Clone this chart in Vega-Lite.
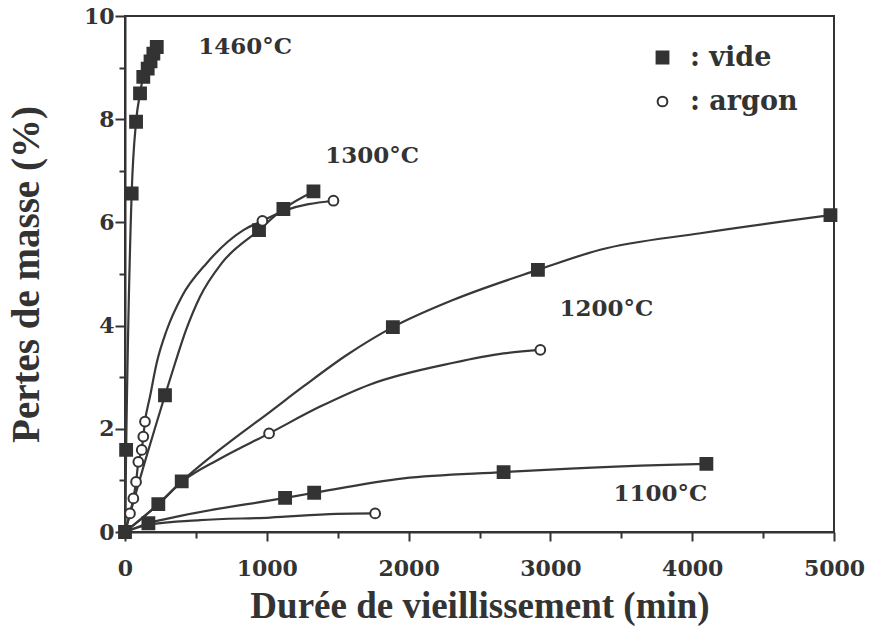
{
  "$schema": "https://vega.github.io/schema/vega-lite/v6.json",
  "width": 709,
  "height": 516,
  "autosize": "none",
  "padding": {"left": 125, "top": 16, "right": 35, "bottom": 100},
  "background": "white",
  "config": {
    "view": {"stroke": "#333", "strokeWidth": 2},
    "font": "DejaVu Serif"
  },
  "datasets": {
    "mesures": [
      {"t": 0, "perte": 0, "temp": "1460", "atm": "vide"},
      {"t": 8, "perte": 1.59, "temp": "1460", "atm": "vide"},
      {"t": 47, "perte": 6.56, "temp": "1460", "atm": "vide"},
      {"t": 78, "perte": 7.95, "temp": "1460", "atm": "vide"},
      {"t": 106, "perte": 8.5, "temp": "1460", "atm": "vide"},
      {"t": 129, "perte": 8.82, "temp": "1460", "atm": "vide"},
      {"t": 160, "perte": 8.98, "temp": "1460", "atm": "vide"},
      {"t": 180, "perte": 9.12, "temp": "1460", "atm": "vide"},
      {"t": 200, "perte": 9.27, "temp": "1460", "atm": "vide"},
      {"t": 224, "perte": 9.4, "temp": "1460", "atm": "vide"},
      {"t": 282, "perte": 2.65, "temp": "1300", "atm": "vide"},
      {"t": 945, "perte": 5.85, "temp": "1300", "atm": "vide"},
      {"t": 1117, "perte": 6.26, "temp": "1300", "atm": "vide"},
      {"t": 1329, "perte": 6.6, "temp": "1300", "atm": "vide"},
      {"t": 35, "perte": 0.36, "temp": "1300", "atm": "argon"},
      {"t": 59, "perte": 0.65, "temp": "1300", "atm": "argon"},
      {"t": 78, "perte": 0.97, "temp": "1300", "atm": "argon"},
      {"t": 94, "perte": 1.36, "temp": "1300", "atm": "argon"},
      {"t": 118, "perte": 1.59, "temp": "1300", "atm": "argon"},
      {"t": 129, "perte": 1.85, "temp": "1300", "atm": "argon"},
      {"t": 141, "perte": 2.14, "temp": "1300", "atm": "argon"},
      {"t": 969, "perte": 6.03, "temp": "1300", "atm": "argon"},
      {"t": 1470, "perte": 6.42, "temp": "1300", "atm": "argon"},
      {"t": 235, "perte": 0.54, "temp": "1200", "atm": "vide"},
      {"t": 400, "perte": 0.98, "temp": "1200", "atm": "vide"},
      {"t": 1889, "perte": 3.97, "temp": "1200", "atm": "vide"},
      {"t": 2912, "perte": 5.08, "temp": "1200", "atm": "vide"},
      {"t": 4975, "perte": 6.14, "temp": "1200", "atm": "vide"},
      {"t": 1016, "perte": 1.91, "temp": "1200", "atm": "argon"},
      {"t": 2929, "perte": 3.53, "temp": "1200", "atm": "argon"},
      {"t": 165, "perte": 0.17, "temp": "1100", "atm": "vide"},
      {"t": 1129, "perte": 0.66, "temp": "1100", "atm": "vide"},
      {"t": 1334, "perte": 0.76, "temp": "1100", "atm": "vide"},
      {"t": 2670, "perte": 1.16, "temp": "1100", "atm": "vide"},
      {"t": 4100, "perte": 1.32, "temp": "1100", "atm": "vide"},
      {"t": 1764, "perte": 0.36, "temp": "1100", "atm": "argon"}
    ],
    "courbes": [
      {"t": 0, "perte": 0, "courbe": "1460 vide"},
      {"t": 8, "perte": 1.59, "courbe": "1460 vide"},
      {"t": 47, "perte": 6.56, "courbe": "1460 vide"},
      {"t": 78, "perte": 7.95, "courbe": "1460 vide"},
      {"t": 106, "perte": 8.5, "courbe": "1460 vide"},
      {"t": 129, "perte": 8.82, "courbe": "1460 vide"},
      {"t": 160, "perte": 8.98, "courbe": "1460 vide"},
      {"t": 180, "perte": 9.12, "courbe": "1460 vide"},
      {"t": 200, "perte": 9.27, "courbe": "1460 vide"},
      {"t": 224, "perte": 9.4, "courbe": "1460 vide"},
      {"t": 0, "perte": 0, "courbe": "1300 argon"},
      {"t": 35, "perte": 0.36, "courbe": "1300 argon"},
      {"t": 59, "perte": 0.65, "courbe": "1300 argon"},
      {"t": 78, "perte": 0.97, "courbe": "1300 argon"},
      {"t": 94, "perte": 1.36, "courbe": "1300 argon"},
      {"t": 118, "perte": 1.59, "courbe": "1300 argon"},
      {"t": 129, "perte": 1.85, "courbe": "1300 argon"},
      {"t": 141, "perte": 2.14, "courbe": "1300 argon"},
      {"t": 176, "perte": 2.62, "courbe": "1300 argon"},
      {"t": 223, "perte": 3.27, "courbe": "1300 argon"},
      {"t": 294, "perte": 3.91, "courbe": "1300 argon"},
      {"t": 400, "perte": 4.56, "courbe": "1300 argon"},
      {"t": 576, "perte": 5.21, "courbe": "1300 argon"},
      {"t": 835, "perte": 5.85, "courbe": "1300 argon"},
      {"t": 969, "perte": 6.03, "courbe": "1300 argon"},
      {"t": 1117, "perte": 6.22, "courbe": "1300 argon"},
      {"t": 1470, "perte": 6.42, "courbe": "1300 argon"},
      {"t": 0, "perte": 0, "courbe": "1300 vide"},
      {"t": 150, "perte": 1.45, "courbe": "1300 vide"},
      {"t": 210, "perte": 2.0, "courbe": "1300 vide"},
      {"t": 282, "perte": 2.65, "courbe": "1300 vide"},
      {"t": 353, "perte": 3.27, "courbe": "1300 vide"},
      {"t": 430, "perte": 3.91, "courbe": "1300 vide"},
      {"t": 529, "perte": 4.56, "courbe": "1300 vide"},
      {"t": 682, "perte": 5.21, "courbe": "1300 vide"},
      {"t": 945, "perte": 5.85, "courbe": "1300 vide"},
      {"t": 1117, "perte": 6.26, "courbe": "1300 vide"},
      {"t": 1329, "perte": 6.6, "courbe": "1300 vide"},
      {"t": 0, "perte": 0, "courbe": "1200 vide"},
      {"t": 235, "perte": 0.54, "courbe": "1200 vide"},
      {"t": 400, "perte": 0.98, "courbe": "1200 vide"},
      {"t": 670, "perte": 1.6, "courbe": "1200 vide"},
      {"t": 1023, "perte": 2.33, "courbe": "1200 vide"},
      {"t": 1258, "perte": 2.82, "courbe": "1200 vide"},
      {"t": 1564, "perte": 3.43, "courbe": "1200 vide"},
      {"t": 1889, "perte": 3.97, "courbe": "1200 vide"},
      {"t": 2317, "perte": 4.5, "courbe": "1200 vide"},
      {"t": 2912, "perte": 5.08, "courbe": "1200 vide"},
      {"t": 3351, "perte": 5.47, "courbe": "1200 vide"},
      {"t": 4058, "perte": 5.79, "courbe": "1200 vide"},
      {"t": 4975, "perte": 6.14, "courbe": "1200 vide"},
      {"t": 0, "perte": 0, "courbe": "1200 argon"},
      {"t": 235, "perte": 0.54, "courbe": "1200 argon"},
      {"t": 400, "perte": 0.97, "courbe": "1200 argon"},
      {"t": 670, "perte": 1.42, "courbe": "1200 argon"},
      {"t": 1016, "perte": 1.91, "courbe": "1200 argon"},
      {"t": 1376, "perte": 2.43, "courbe": "1200 argon"},
      {"t": 1729, "perte": 2.86, "courbe": "1200 argon"},
      {"t": 2317, "perte": 3.28, "courbe": "1200 argon"},
      {"t": 2670, "perte": 3.46, "courbe": "1200 argon"},
      {"t": 2929, "perte": 3.53, "courbe": "1200 argon"},
      {"t": 0, "perte": 0, "courbe": "1100 vide"},
      {"t": 165, "perte": 0.17, "courbe": "1100 vide"},
      {"t": 318, "perte": 0.27, "courbe": "1100 vide"},
      {"t": 1129, "perte": 0.66, "courbe": "1100 vide"},
      {"t": 1334, "perte": 0.76, "courbe": "1100 vide"},
      {"t": 1964, "perte": 1.04, "courbe": "1100 vide"},
      {"t": 2670, "perte": 1.16, "courbe": "1100 vide"},
      {"t": 3140, "perte": 1.23, "courbe": "1100 vide"},
      {"t": 3823, "perte": 1.3, "courbe": "1100 vide"},
      {"t": 4100, "perte": 1.32, "courbe": "1100 vide"},
      {"t": 0, "perte": 0, "courbe": "1100 argon"},
      {"t": 165, "perte": 0.14, "courbe": "1100 argon"},
      {"t": 529, "perte": 0.23, "courbe": "1100 argon"},
      {"t": 1023, "perte": 0.28, "courbe": "1100 argon"},
      {"t": 1494, "perte": 0.35, "courbe": "1100 argon"},
      {"t": 1764, "perte": 0.36, "courbe": "1100 argon"}
    ],
    "etiquettes": [
      {"t": 847, "perte": 9.4, "texte": "1460°C"},
      {"t": 1743, "perte": 7.29, "texte": "1300°C"},
      {"t": 3395, "perte": 4.32, "texte": "1200°C"},
      {"t": 3776, "perte": 0.74, "texte": "1100°C"}
    ]
  },
  "encoding": {
    "x": {
      "field": "t",
      "type": "quantitative",
      "scale": {"domain": [0, 5000], "nice": false, "zero": true},
      "axis": {
        "title": "Durée de vieillissement (min)",
        "values": [0, 500, 1000, 1500, 2000, 2500, 3000, 3500, 4000, 4500, 5000],
        "format": "d",
        "labelExpr": "datum.value % 1000 === 0 ? datum.label : ''",
        "tickSize": {"condition": {"test": "datum.value % 1000 === 0", "value": 9}, "value": 6},
        "tickWidth": 2,
        "tickColor": "#333",
        "domainColor": "#333",
        "domainWidth": 2,
        "grid": false,
        "labelFont": "DejaVu Serif",
        "labelFontWeight": "bold",
        "labelFontSize": 22,
        "labelColor": "#333",
        "labelPadding": 17,
        "labelFlush": false,
        "titleFont": "Liberation Serif",
        "titleFontWeight": "bold",
        "titleFontSize": 37,
        "titleColor": "#333",
        "titlePadding": 9
      }
    },
    "y": {
      "field": "perte",
      "type": "quantitative",
      "scale": {"domain": [0, 10], "nice": false},
      "axis": {
        "title": "Pertes de masse (%)",
        "values": [0, 1, 2, 3, 4, 5, 6, 7, 8, 9, 10],
        "labelExpr": "datum.value % 2 === 0 ? datum.label : ''",
        "tickSize": {"condition": {"test": "datum.value % 2 === 0", "value": 10}, "value": 6},
        "tickWidth": 2,
        "tickColor": "#333",
        "domainColor": "#333",
        "domainWidth": 2,
        "grid": false,
        "labelFont": "DejaVu Serif",
        "labelFontWeight": "bold",
        "labelFontSize": 22,
        "labelColor": "#333",
        "labelPadding": 1,
        "labelFlush": false,
        "titleFont": "Liberation Serif",
        "titleFontWeight": "bold",
        "titleFontSize": 39,
        "titleColor": "#333",
        "titlePadding": 37
      }
    }
  },
  "layer": [
    {
      "data": {"name": "courbes"},
      "mark": {"type": "line", "interpolate": "monotone", "color": "#383838", "strokeWidth": 2.2},
      "encoding": {"detail": {"field": "courbe"}}
    },
    {
      "data": {"name": "mesures"},
      "mark": {"type": "point", "filled": true, "strokeWidth": 2, "opacity": 1},
      "encoding": {
        "shape": {
          "field": "atm",
          "type": "nominal",
          "scale": {"domain": ["vide", "argon"], "range": ["square", "circle"]},
          "legend": {
            "title": null, "orient": "none", "legendX": 524, "legendY": 28, "padding": 0,
            "labelExpr": "': ' + datum.label",
            "labelFont": "DejaVu Serif", "labelFontWeight": "bold", "labelFontSize": 27, "labelColor": "#333",
            "labelOffset": 14, "rowPadding": 16, "symbolStrokeWidth": 2
          }
        },
        "fill": {
          "field": "atm",
          "type": "nominal",
          "scale": {"domain": ["vide", "argon"], "range": ["#333333", "#ffffff"]},
          "legend": {
            "title": null, "orient": "none", "legendX": 524, "legendY": 28, "padding": 0,
            "labelExpr": "': ' + datum.label",
            "labelFont": "DejaVu Serif", "labelFontWeight": "bold", "labelFontSize": 27, "labelColor": "#333",
            "labelOffset": 14, "rowPadding": 16, "symbolStrokeWidth": 2
          }
        },
        "stroke": {
          "field": "atm",
          "type": "nominal",
          "scale": {"domain": ["vide", "argon"], "range": ["#333333", "#333333"]},
          "legend": {
            "title": null, "orient": "none", "legendX": 524, "legendY": 28, "padding": 0,
            "labelExpr": "': ' + datum.label",
            "labelFont": "DejaVu Serif", "labelFontWeight": "bold", "labelFontSize": 27, "labelColor": "#333",
            "labelOffset": 14, "rowPadding": 16, "symbolStrokeWidth": 2
          }
        },
        "size": {
          "field": "atm",
          "type": "nominal",
          "scale": {"domain": ["vide", "argon"], "range": [140, 95]},
          "legend": {
            "title": null, "orient": "none", "legendX": 524, "legendY": 28, "padding": 0,
            "labelExpr": "': ' + datum.label",
            "labelFont": "DejaVu Serif", "labelFontWeight": "bold", "labelFontSize": 27, "labelColor": "#333",
            "labelOffset": 14, "rowPadding": 16, "symbolStrokeWidth": 2
          }
        }
      }
    },
    {
      "data": {"name": "etiquettes"},
      "mark": {"type": "text", "font": "DejaVu Serif", "fontWeight": "bold", "fontSize": 23, "color": "#333"},
      "encoding": {"text": {"field": "texte"}}
    }
  ]
}
